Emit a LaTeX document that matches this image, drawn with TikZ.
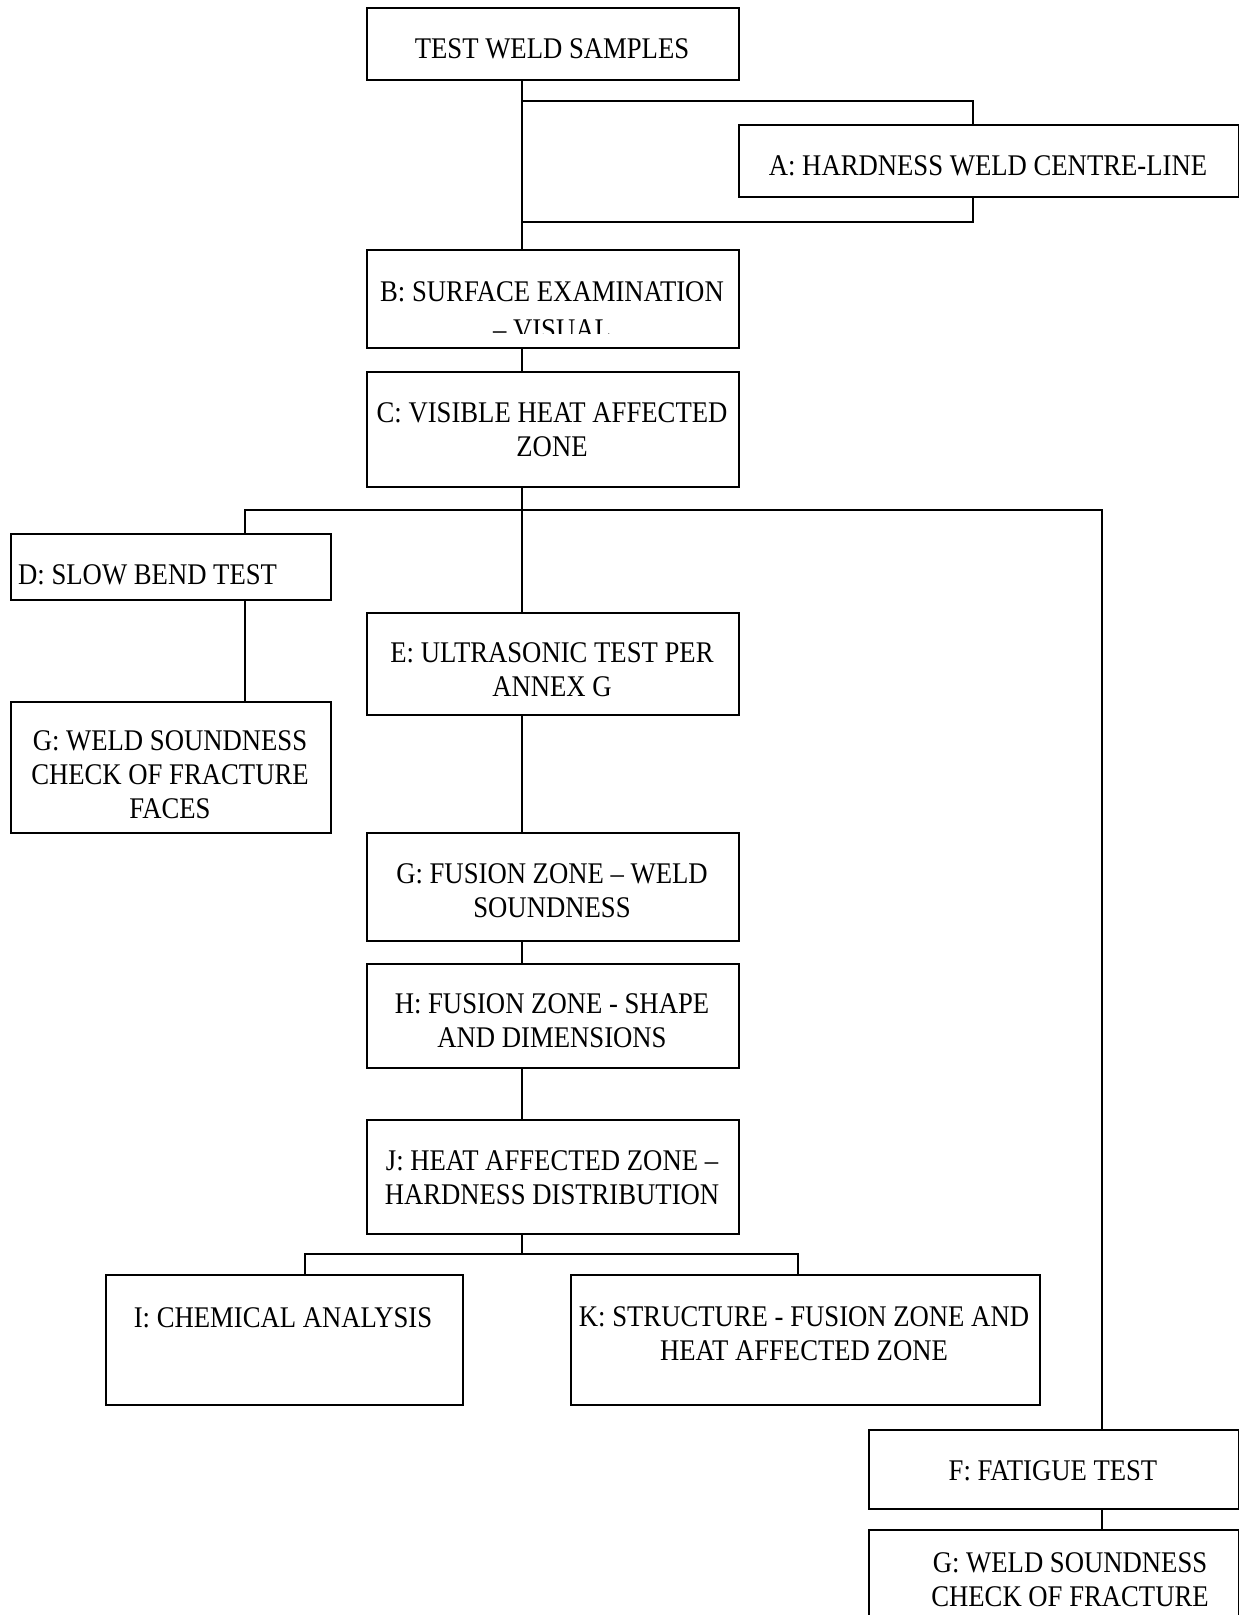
\documentclass[tikz,border=0pt]{standalone}
\usepackage{fontspec}
\setmainfont[FakeStretch=0.89]{Liberation Serif}
\begin{document}
\begin{tikzpicture}[x=1pt,y=-1pt,
  box/.style={draw, line width=2pt, rectangle, inner sep=0pt, anchor=north west},
  txt/.style={font=\fontsize{30}{34}\selectfont, align=center, inner sep=0pt, anchor=base},
  conn/.style={line width=1.7pt}]
\useasboundingbox (0,0) rectangle (1239,1615);
\clip (0,0) rectangle (1239,1615);

% boxes
\node[box, minimum width=372pt, minimum height=72pt]  (test) at (366,7) {};
\node[box, minimum width=500pt, minimum height=72pt]  (A)    at (738,124) {};
\node[box, minimum width=372pt, minimum height=98pt]  (B)    at (366,249) {};
\node[box, minimum width=372pt, minimum height=115pt] (C)    at (366,371) {};
\node[box, minimum width=320pt, minimum height=66pt]  (D)    at (10,533) {};
\node[box, minimum width=320pt, minimum height=131pt] (GL)   at (10,701) {};
\node[box, minimum width=372pt, minimum height=102pt] (E)    at (366,612) {};
\node[box, minimum width=372pt, minimum height=108pt] (GF)   at (366,832) {};
\node[box, minimum width=372pt, minimum height=104pt] (H)    at (366,963) {};
\node[box, minimum width=372pt, minimum height=114pt] (J)    at (366,1119) {};
\node[box, minimum width=357pt, minimum height=130pt] (I)    at (105,1274) {};
\node[box, minimum width=469pt, minimum height=130pt] (K)    at (570,1274) {};
\node[box, minimum width=370pt, minimum height=79pt]  (F)    at (868,1429) {};
\node[box, minimum width=370pt, minimum height=130pt] (GB)   at (868,1529) {};

% texts (anchor base = baseline of the last line)
\node[txt] (tTest) at (552,58) {TEST WELD SAMPLES};
\node[txt] (tA) at (988,175) {A: HARDNESS WELD CENTRE-LINE};
\begin{scope}
  \clip (366,249) rectangle (739,333);
  \node[txt] (tB) at (552,339) {B: SURFACE EXAMINATION\\[4pt]– VISUAL};
\end{scope}
\node[txt] (tC) at (552,456) {C: VISIBLE HEAT AFFECTED\\ZONE};
\node[txt, anchor=base west] (tD) at (18,584) {D: SLOW BEND TEST};
\node[txt] (tGL) at (170,818) {G: WELD SOUNDNESS\\CHECK OF FRACTURE\\FACES};
\node[txt] (tE) at (552,696) {E: ULTRASONIC TEST PER\\ANNEX G};
\node[txt] (tGF) at (552,917) {G: FUSION ZONE – WELD\\SOUNDNESS};
\node[txt] (tH) at (552,1047) {H: FUSION ZONE - SHAPE\\AND DIMENSIONS};
\node[txt] (tJ) at (552,1204) {J: HEAT AFFECTED ZONE –\\HARDNESS DISTRIBUTION};
\node[txt] (tI) at (283,1327) {I: CHEMICAL ANALYSIS};
\node[txt] (tK) at (804,1360) {K: STRUCTURE - FUSION ZONE AND\\HEAT AFFECTED ZONE};
\node[txt] (tF) at (1053,1480) {F: FATIGUE TEST};
\node[txt] (tGB) at (1070,1606) {G: WELD SOUNDNESS\\CHECK OF FRACTURE};

% connector coordinates
\coordinate (tr) at (522,0);
\coordinate (ax) at (973,0);
\coordinate (ya1) at (0,101);
\coordinate (ya2) at (0,222);
\coordinate (yc) at (0,510);
\coordinate (dx) at (245,0);
\coordinate (fx) at (1102,0);
\coordinate (yj) at (0,1254);
\coordinate (ix) at (305,0);
\coordinate (kx) at (798,0);

% connectors
\draw[conn] (test.south -| tr) -- (B.north -| tr);
\draw[conn] (tr |- ya1) -- (ax |- ya1) -- (A.north -| ax);
\draw[conn] (A.south -| ax) -- (ax |- ya2) -- (tr |- ya2);
\draw[conn] (B.south -| tr) -- (C.north -| tr);
\draw[conn] (C.south -| tr) -- (E.north -| tr);
\draw[conn] (D.north -| dx) -- (dx |- yc) -- (fx |- yc) -- (F.north -| fx);
\draw[conn] (D.south -| dx) -- (GL.north -| dx);
\draw[conn] (E.south -| tr) -- (GF.north -| tr);
\draw[conn] (GF.south -| tr) -- (H.north -| tr);
\draw[conn] (H.south -| tr) -- (J.north -| tr);
\draw[conn] (J.south -| tr) -- (tr |- yj);
\draw[conn] (I.north -| ix) -- (ix |- yj) -- (kx |- yj) -- (K.north -| kx);
\draw[conn] (F.south -| fx) -- (GB.north -| fx);
\end{tikzpicture}
\end{document}
